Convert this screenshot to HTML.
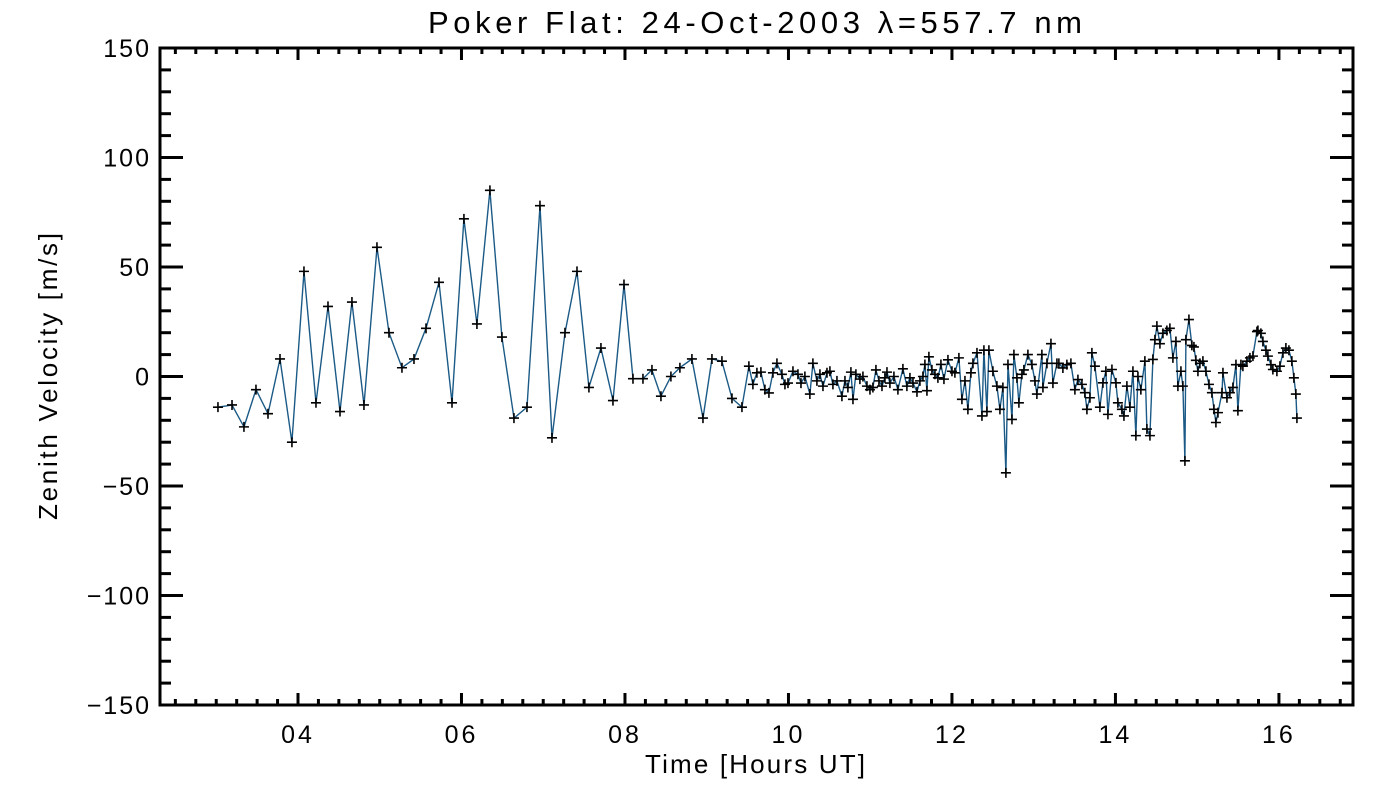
<!DOCTYPE html>
<html><head><meta charset="utf-8"><style>
html,body{margin:0;padding:0;background:#fff;}
svg{display:block;font-family:"Liberation Sans",sans-serif;}
</style></head><body>
<svg id="chart" width="1400" height="800" xmlns="http://www.w3.org/2000/svg">
<text x="428" y="33" font-size="31" textLength="654" lengthAdjust="spacing" fill="#000">Poker Flat: 24-Oct-2003 λ=557.7 nm</text>
<text x="645" y="773" font-size="26" textLength="220" lengthAdjust="spacing" fill="#000">Time [Hours UT]</text>
<text transform="translate(57,520) rotate(-90)" font-size="26" textLength="287" lengthAdjust="spacing" fill="#000">Zenith Velocity [m/s]</text>
<g id="axes"></g>
<g id="series"></g>
<rect x="160" y="48" width="1193" height="657" fill="none" stroke="#000" stroke-width="3"/>
</svg>
<script>
const hours=[3.021,3.193,3.339,3.486,3.633,3.780,3.926,4.073,4.220,4.367,4.514,4.660,4.807,4.966,5.113,5.272,5.419,5.566,5.725,5.884,6.030,6.189,6.348,6.495,6.642,6.801,6.960,7.107,7.266,7.413,7.559,7.706,7.853,7.988,8.098,8.220,8.330,8.440,8.562,8.672,8.819,8.954,9.064,9.186,9.309,9.431,
9.516,9.565,9.614,9.663,9.712,9.761,9.810,9.859,9.920,9.957,9.994,10.055,10.116,10.153,10.201,10.262,10.299,10.348,10.385,10.422,10.471,10.507,10.544,10.593,10.654,10.691,10.727,10.764,10.789,10.825,10.874,10.911,10.960,10.997,11.033,11.070,11.107,11.144,11.180,11.205,11.241,11.290,11.339,11.400,11.449,11.486,11.523,11.572,11.608,11.645,11.669,11.694,11.718,11.755,11.792,11.828,11.865,11.902,11.951,12.000,12.036,12.085,12.122,12.159,12.195,12.232,12.257,12.306,12.367,12.391,12.428,12.452,12.501,12.550,12.587,12.623,12.660,12.685,12.734,12.758,12.795,12.819,12.856,12.880,12.929,12.978,13.015,13.039,13.100,13.113,13.162,13.211,13.235,13.284,
13.308,13.357,13.406,13.455,13.504,13.541,13.590,13.626,13.651,13.688,13.712,13.749,13.810,13.847,13.883,13.908,13.957,14.006,14.030,14.079,14.104,14.140,14.177,14.214,14.250,14.275,14.311,14.360,14.385,14.422,14.458,14.483,14.507,14.544,14.581,14.629,14.666,14.703,14.740,14.764,14.801,14.825,14.850,14.862,14.899,14.935,14.960,14.984,15.009,15.033,15.070,15.107,15.144,15.180,15.205,15.229,15.254,15.303,15.315,15.364,15.400,15.437,15.474,15.498,15.535,15.559,15.608,15.645,15.682,15.731,15.743,15.779,15.804,15.841,15.865,15.902,15.926,15.975,16.012,16.049,16.085,16.122,16.158,16.183,16.207,16.220];
const velocity=[-14,-13,-23,-6,-17,8,-30,48,-12,32,-16,34,-13,59,20,4,8,22,43,-12,72,24,85,18,-19,-14,78,-28,20,48,-5,13,-11,42,-1,-1,3,-9,0,4,8,-19,8,7,-10,-14,
4.7,-3.6,1.7,2,-6,-7.5,1.7,6,1,-3.6,-3,2.4,1,-3,0,-8,6,-2,1,-4.4,1.7,2.4,-3.6,-2,-9,-2,-5,2,-10.4,1,-1.2,0,-4.4,-6,-5,3,-2,-4.4,-0.6,2,-3,0,-6,3.5,-4.4,-0.6,-3,-7,-2,0,5.5,-6.5,9,3,1,-0.6,5.5,-1.2,7.6,2.4,1.7,8.5,-10.4,-2,-15,1.7,6,10.8,-18,12,-16,12,2.4,-4.4,-15,-5,-44,5.5,-19.6,10,-0.6,-12,1,3,10,5.5,-2,-8,10,-5,6,15,-3,6,
6,3.9,5.4,6,-6,-1.4,-3.6,-7.4,-15,-9.7,10.8,4.7,-14,-2.9,2.4,-17.3,3.2,-2.9,-12,-15,-18,-4.4,-14,2.4,-27,0,-6,7,-24,-27,7.8,16.8,23,15,19.7,21,22,8.5,16,-4.4,2.4,-4.4,-38.5,16.8,26,14.2,13.5,7.4,2.4,6,7,2.4,-3.6,-7.4,-15,-21,-16.5,-7.4,1.7,-9.7,-7.4,-5,5.4,-15.6,5.4,4.7,7,8.5,9.3,20.5,21,19.7,16,12,9.3,5.4,3.2,2.4,4.7,10.8,13,12,7,-0.6,-8,-19];
const xMajorTicks=[4,6,8,10,12,14,16];
const xMajorLabels=["04","06","08","10","12","14","16"];
const yMajorTicks=[-150,-100,-50,0,50,100,150];
const yMajorLabels=["\u2212150","\u2212100","\u221250","0","50","100","150"];
const X0=160,X1=1353,Y0=48,Y1=705;
const xMin=2.312,xMax=16.906,yMin=-150,yMax=150;
function xs(h){return X0+(h-xMin)/(xMax-xMin)*(X1-X0);}
function ys(v){return Y1-(v-yMin)/(yMax-yMin)*(Y1-Y0);}
const NS="http://www.w3.org/2000/svg";
const axes=document.getElementById('axes'),series=document.getElementById('series');
function mk(tag,attrs,parent){const e=document.createElementNS(NS,tag);for(const k in attrs)e.setAttribute(k,attrs[k]);parent.appendChild(e);return e;}
for(let h=2.5;h<xMax;h+=0.25){
  const maj=Math.abs(h-Math.round(h))<1e-6&&Math.round(h)%2===0;
  const L=maj?12:6,x=xs(h);
  const t1=mk('line',{x1:x,x2:x,y1:Y1,y2:Y1-L,stroke:'#000','stroke-width':3},axes);
  
  
  const t2=mk('line',{x1:x,x2:x,y1:Y0,y2:Y0+L,stroke:'#000','stroke-width':3},axes);
  
  
}
xMajorTicks.forEach((h,i)=>{
  const t=mk('text',{x:xs(h),y:743,'font-size':25,'letter-spacing':3,'text-anchor':'middle'},axes);
  t.textContent=xMajorLabels[i];
  
  
});
for(let v=-140;v<150;v+=10){
  const maj=v%50===0,L=maj?23:11,y=ys(v);
  const t1=mk('line',{x1:X0,x2:X0+L,y1:y,y2:y,stroke:'#000','stroke-width':3},axes);
  
  
  const t2=mk('line',{x1:X1,x2:X1-L,y1:y,y2:y,stroke:'#000','stroke-width':3},axes);
  
  
}
yMajorTicks.forEach((v,i)=>{
  const t=mk('text',{x:151,y:ys(v)+9,'font-size':25,'letter-spacing':2,'text-anchor':'end'},axes);
  t.textContent=yMajorLabels[i];
  
  
});
const pts=hours.map((h,i)=>xs(h).toFixed(1)+','+ys(velocity[i]).toFixed(1)).join(' ');
const line=mk('polyline',{points:pts,fill:'none',stroke:'#1b5a86','stroke-width':1.4},series);


hours.forEach((h,i)=>{
  const x=xs(h),y=ys(velocity[i]);
  const p=mk('path',{d:`M${x-5},${y}H${x+5}M${x},${y-5}V${y+5}`,stroke:'#000','stroke-width':1.6,fill:'none'},series);
  
  
});
</script>
</body></html>
